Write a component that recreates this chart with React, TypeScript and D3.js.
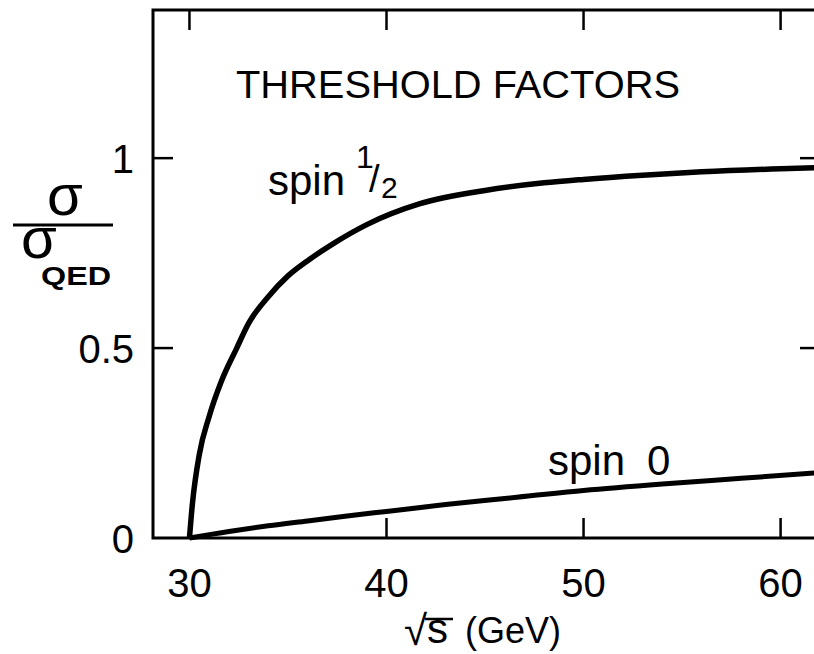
import React from "react";
import * as d3 from "d3";

// Data
const spinHalfX = [30, 30.15, 30.5, 31, 31.6, 32.4, 33, 34, 35, 36, 37.3, 39, 41.7, 45, 48, 50, 53, 56, 60, 62];
const spinHalfY = [0, 0.09, 0.22, 0.32, 0.41, 0.5, 0.565, 0.635, 0.69, 0.73, 0.775, 0.825, 0.88, 0.915, 0.935, 0.944, 0.955, 0.964, 0.972, 0.975];
const spinZeroX = [30, 32, 34, 36, 38, 40, 43, 46, 50, 54, 58, 62];
const spinZeroY = [0, 0.017, 0.032, 0.045, 0.058, 0.07, 0.088, 0.104, 0.125, 0.142, 0.157, 0.172];
const xTicks = [30, 40, 50, 60];
const xTickLabels = ["30", "40", "50", "60"];
const yTicks = [0.5, 1];
const yTickLabels = [
  { v: 1, t: "1" },
  { v: 0.5, t: "0.5" },
  { v: 0, t: "0" },
];

const W = 814;
const H = 654;
const left = 153;
const right = 820;
const top = 10;
const bottom = 538;

export default function App() {
  const x = d3.scaleLinear().domain([28.15, 62]).range([left, right]);
  const y = d3.scaleLinear().domain([0, 1.39]).range([bottom, top]);
  const line = d3
    .line<[number, number]>()
    .x((d) => x(d[0]))
    .y((d) => y(d[1]))
    .curve(d3.curveMonotoneX);
  const half = spinHalfX.map((v, i) => [v, spinHalfY[i]] as [number, number]);
  const zero = spinZeroX.map((v, i) => [v, spinZeroY[i]] as [number, number]);
  const font = "'Liberation Sans', Arial, sans-serif";
  const tl = 20;
  return (
    <svg
      width={W}
      height={H}
      style={{ position: "absolute", left: 0, top: 0, background: "#fff" }}
      fontFamily={font}
    >
      <rect x={0} y={0} width={W} height={H} fill="#fff" />
      {/* frame */}
      <path
        d={`M${left},${bottom}V${top}H${right}V${bottom}Z`}
        fill="none"
        stroke="#000"
        strokeWidth={3}
      />
      {/* x ticks top and bottom */}
      {xTicks.map((t) => (
        <g key={"xt" + t}>
          <line x1={x(t)} x2={x(t)} y1={top} y2={top + tl} stroke="#000" strokeWidth={2.5} />
          {t !== 30 && (
            <line x1={x(t)} x2={x(t)} y1={bottom} y2={bottom - tl} stroke="#000" strokeWidth={2.5} />
          )}
        </g>
      ))}
      {/* y ticks left and right */}
      {yTicks.map((t) => (
        <g key={"yt" + t}>
          <line x1={left} x2={left + tl} y1={y(t)} y2={y(t)} stroke="#000" strokeWidth={2.5} />
          <line x1={right} x2={right - tl} y1={y(t)} y2={y(t)} stroke="#000" strokeWidth={2.5} />
        </g>
      ))}
      {/* x tick labels */}
      {xTicks.map((t, i) => (
        <text key={"xl" + t} x={x(t)} y={597} fontSize={40} textAnchor="middle">
          {xTickLabels[i]}
        </text>
      ))}
      {/* y tick labels */}
      {yTickLabels.map((d) => (
        <text key={"yl" + d.t} x={134} y={y(d.v) + 15} fontSize={40} textAnchor="end">
          {d.t}
        </text>
      ))}
      {/* curves */}
      <path d={line(half) || ""} fill="none" stroke="#000" strokeWidth={5.5} strokeLinejoin="round" />
      <path d={line(zero) || ""} fill="none" stroke="#000" strokeWidth={5} strokeLinejoin="round" />
      {/* title */}
      <text x={236} y={98} fontSize={38} textLength={444} lengthAdjust="spacingAndGlyphs">
        THRESHOLD FACTORS
      </text>
      {/* spin 1/2 label */}
      <text x={268} y={195} fontSize={42}>spin</text>
      <text>
        <tspan x={356} y={168} fontSize={32}>1</tspan>
        <tspan x={369} y={192} fontSize={38}>/</tspan>
        <tspan x={381} y={198} fontSize={30}>2</tspan>
      </text>
      {/* spin 0 label */}
      <text x={548} y={475} fontSize={42}>spin</text>
      <text x={647} y={475} fontSize={42}>0</text>
      {/* y axis label */}
      <text x={47} y={215} fontSize={58}>σ</text>
      <line x1={13} x2={113} y1={225} y2={225} stroke="#000" strokeWidth={3} />
      <text>
        <tspan x={21} y={258} fontSize={58}>σ</tspan>
        <tspan x={41} y={285} fontSize={26} fontWeight="bold" textLength={70} lengthAdjust="spacingAndGlyphs">
          QED
        </tspan>
      </text>
      {/* x axis label */}
      <text>
        <tspan x={404} y={645} fontSize={42}>√</tspan>
        <tspan x={427} y={643} fontSize={42}>s</tspan>
      </text>
      <line x1={425} x2={453} y1={619} y2={619} stroke="#000" strokeWidth={2.5} />
      <text x={465} y={643} fontSize={36}>(GeV)</text>
    </svg>
  );
}
